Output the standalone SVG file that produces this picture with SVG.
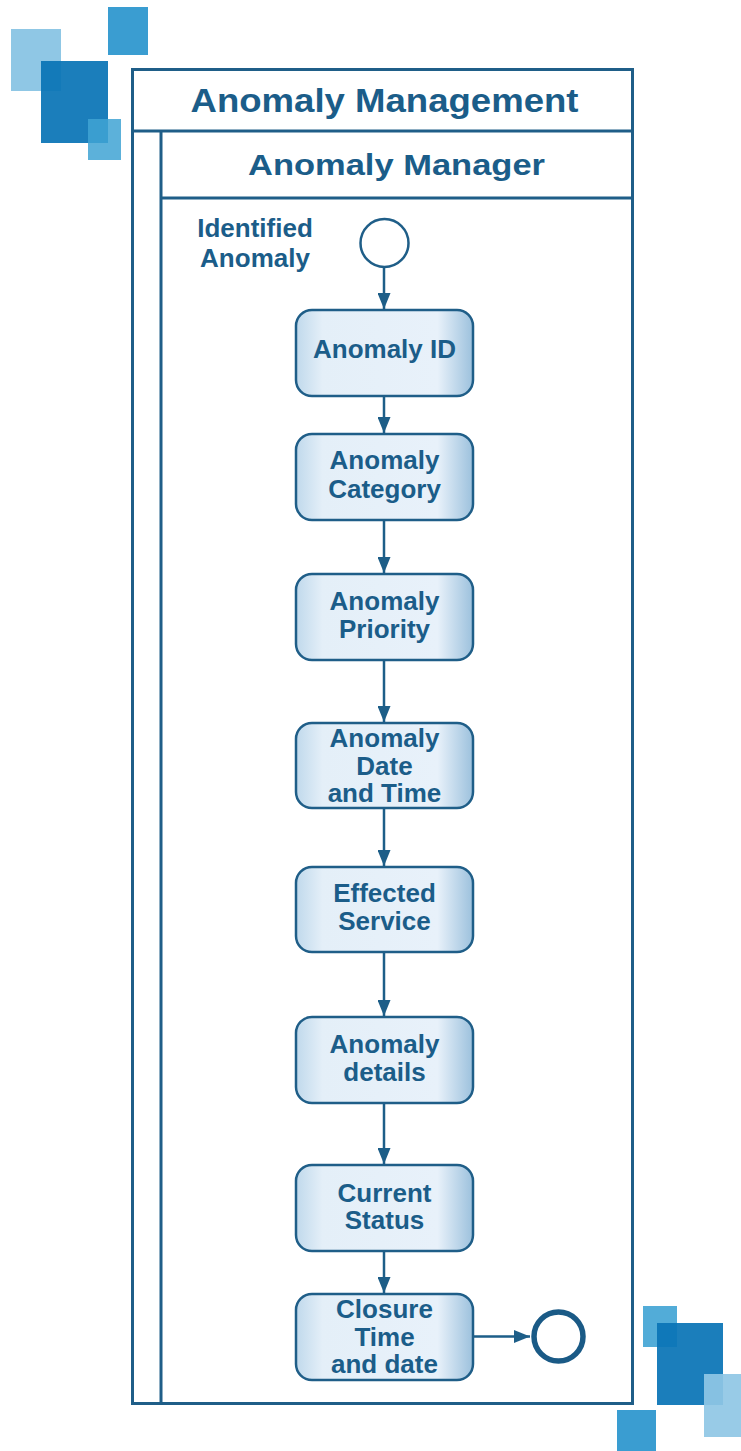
<svg xmlns="http://www.w3.org/2000/svg" width="741" height="1451" viewBox="0 0 741 1451">
<defs>
<linearGradient id="nodeFill" x1="0" y1="0" x2="1" y2="0">
<stop offset="0" stop-color="#c0d9ec"/>
<stop offset="0.15" stop-color="#e4eff8"/>
<stop offset="0.8" stop-color="#e8f1fa"/>
<stop offset="1" stop-color="#9cc1dd"/>
</linearGradient>
<marker id="arrow" viewBox="0 0 16 13" refX="16" refY="6.5" markerWidth="16" markerHeight="13" markerUnits="userSpaceOnUse" orient="auto">
<path d="M0,0 L16,6.5 L0,13 Z" fill="#1d5e88"/>
</marker>
</defs>
<style>
.frame{fill:none;stroke:#1f5e88;stroke-width:3}
.node rect{fill:url(#nodeFill);stroke:#1f5e88;stroke-width:2.5}
.lbl{font-family:"Liberation Sans",Arial,sans-serif;font-weight:bold;font-size:26px;fill:#1b5d89;text-anchor:middle}
.conn{fill:none;stroke:#1d5e88;stroke-width:2.5;marker-end:url(#arrow)}
</style>
<rect width="741" height="1451" fill="#ffffff"/>
<g id="decor-top-left">
<rect x="11" y="29" width="50" height="62" fill="#8fc7e5"/>
<rect x="108" y="7" width="40" height="48" fill="#3a9dd1"/>
<rect x="41" y="61" width="67" height="82" fill="#0a74b6" fill-opacity="0.93"/>
<rect x="88" y="119" width="33" height="41" fill="#3fa3d4" fill-opacity="0.85"/>
</g>
<g id="decor-bottom-right">
<rect x="643" y="1306" width="34" height="41" fill="#52acd8"/>
<rect x="657" y="1323" width="66" height="82" fill="#0a74b6" fill-opacity="0.93"/>
<rect x="704" y="1374" width="37" height="63" fill="#8fc7e5" fill-opacity="0.92"/>
<rect x="617" y="1410" width="39" height="41" fill="#3a9dd1"/>
</g>
<g id="pool">
<rect class="frame" x="132.5" y="69.5" width="500" height="1334"/>
<line class="frame" x1="132.5" y1="131" x2="632.5" y2="131"/>
<line class="frame" x1="161" y1="131" x2="161" y2="1403.5"/>
<line class="frame" x1="161" y1="198" x2="632.5" y2="198"/>
<text class="lbl" x="384.5" y="112" style="font-size:34px" textLength="388" lengthAdjust="spacingAndGlyphs">Anomaly Management</text>
<text class="lbl" x="396.5" y="175" style="font-size:30px" textLength="297" lengthAdjust="spacingAndGlyphs">Anomaly Manager</text>
</g>
<g id="start">
<circle cx="384.5" cy="243" r="24" fill="#ffffff" stroke="#1f5e88" stroke-width="2.5"/>
<text class="lbl" x="255" y="237">Identified</text>
<text class="lbl" x="255" y="267">Anomaly</text>
</g>
<g id="end">
<circle cx="558.5" cy="1336.5" r="24.5" fill="#ffffff" stroke="#1a5a86" stroke-width="5.5"/>
</g>
<g id="connectors">
<line class="conn" x1="384" y1="267" x2="384" y2="309"/>
<line class="conn" x1="384" y1="396" x2="384" y2="433"/>
<line class="conn" x1="384" y1="520" x2="384" y2="573"/>
<line class="conn" x1="384" y1="660" x2="384" y2="722"/>
<line class="conn" x1="384" y1="808" x2="384" y2="866"/>
<line class="conn" x1="384" y1="952" x2="384" y2="1016"/>
<line class="conn" x1="384" y1="1103" x2="384" y2="1164"/>
<line class="conn" x1="384" y1="1251" x2="384" y2="1293"/>
<line class="conn" x1="473" y1="1336.5" x2="530" y2="1336.5"/>
</g>
<g id="n-id" class="node">
<rect x="296" y="310" width="177" height="86" rx="16"/>
<text class="lbl" x="384.5" y="358">Anomaly ID</text>
</g>
<g id="n-category" class="node">
<rect x="296" y="434" width="177" height="86" rx="16"/>
<text class="lbl" x="384.5" y="469">Anomaly</text>
<text class="lbl" x="384.5" y="498">Category</text>
</g>
<g id="n-priority" class="node">
<rect x="296" y="574" width="177" height="86" rx="16"/>
<text class="lbl" x="384.5" y="610">Anomaly</text>
<text class="lbl" x="384.5" y="638">Priority</text>
</g>
<g id="n-datetime" class="node">
<rect x="296" y="723" width="177" height="85" rx="16"/>
<text class="lbl" x="384.5" y="747">Anomaly</text>
<text class="lbl" x="384.5" y="775">Date</text>
<text class="lbl" x="384.5" y="802">and Time</text>
</g>
<g id="n-service" class="node">
<rect x="296" y="867" width="177" height="85" rx="16"/>
<text class="lbl" x="384.5" y="902">Effected</text>
<text class="lbl" x="384.5" y="930">Service</text>
</g>
<g id="n-details" class="node">
<rect x="296" y="1017" width="177" height="86" rx="16"/>
<text class="lbl" x="384.5" y="1053">Anomaly</text>
<text class="lbl" x="384.5" y="1081">details</text>
</g>
<g id="n-status" class="node">
<rect x="296" y="1165" width="177" height="86" rx="16"/>
<text class="lbl" x="384.5" y="1202">Current</text>
<text class="lbl" x="384.5" y="1229">Status</text>
</g>
<g id="n-closure" class="node">
<rect x="296" y="1294" width="177" height="86" rx="16"/>
<text class="lbl" x="384.5" y="1318">Closure</text>
<text class="lbl" x="384.5" y="1346">Time</text>
<text class="lbl" x="384.5" y="1373">and date</text>
</g>
</svg>
